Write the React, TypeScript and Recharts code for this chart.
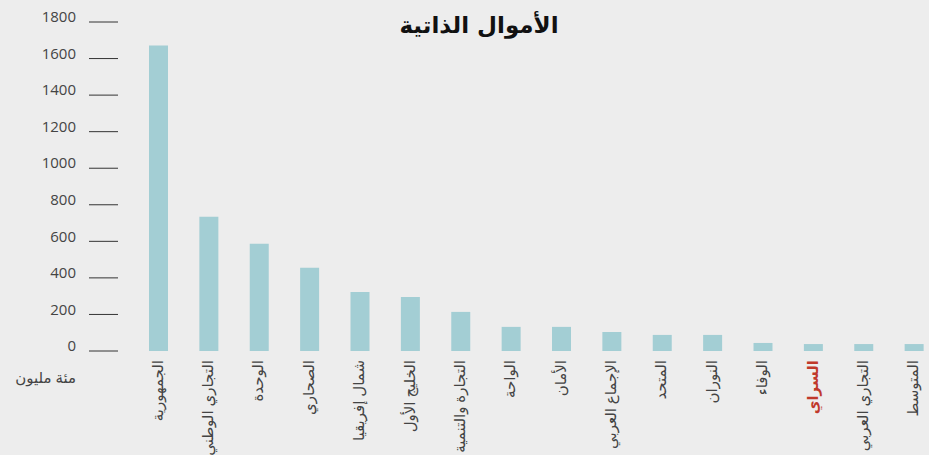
import React from 'react';
import { BarChart, Bar, XAxis, YAxis, Cell } from 'recharts';

// banks, sorted by own funds (hundred million)
const banks = [
  'الجمهورية',
  'التجاري الوطني',
  'الوحدة',
  'الصحاري',
  'شمال إفريقيا',
  'الخليج الأول',
  'التجارة والتنمية',
  'الواحة',
  'الأمان',
  'الإجماع العربي',
  'المتحد',
  'النوران',
  'الوفاء',
  'السراي',
  'التجاري العربي',
  'المتوسط',
];
const ownFunds = [1672, 735, 587, 455, 323, 296, 214, 132, 132, 104, 88, 88, 44, 38, 38, 38];
const yTicks = [0, 200, 400, 600, 800, 1000, 1200, 1400, 1600, 1800];
const highlighted = 'السراي';
const chartTitle = 'الأموال الذاتية';
const unitLabel = 'مئة مليون';

const data = banks.map((name, i) => ({ name, value: ownFunds[i] }));

const FONT = '"Open Sans", "DejaVu Sans", sans-serif';

const YTick = (props: any) => {
  const { x, y, payload } = props;
  return (
    <text x={x} y={y - 5} dy="0.35em" textAnchor="end" fill="#444" fontSize={15} fontFamily={FONT}>
      {payload.value}
    </text>
  );
};

const XTick = (props: any) => {
  const { x, y, payload } = props;
  const hot = payload.value === highlighted;
  return (
    <text
      x={x}
      y={y}
      dy="0.3em"
      transform={`rotate(-90, ${x}, ${y})`}
      textAnchor="end"
      fill={hot ? '#c0392b' : '#444'}
      fontWeight={hot ? 'bold' : 'normal'}
      fontSize={15}
      fontFamily={FONT}
    >
      {payload.value}
    </text>
  );
};

const UnitLabel = (props: any) => {
  const vb = props.viewBox || {};
  return (
    <text
      x={vb.x + vb.width - 42}
      y={vb.y + vb.height + 27}
      dy="0.35em"
      textAnchor="end"
      fill="#444"
      fontSize={15}
      fontFamily={FONT}
    >
      {unitLabel}
    </text>
  );
};

export default function App() {
  return (
    <div
      style={{
        position: 'fixed',
        left: 0,
        top: 0,
        width: 929,
        height: 455,
        overflow: 'hidden',
        background: '#ededed',
      }}
    >
      <div
        style={{
          position: 'absolute',
          left: 0,
          top: 10,
          width: 958,
          textAlign: 'center',
          fontFamily: '"DejaVu Sans", sans-serif',
          fontWeight: 'bold',
          fontSize: 23,
          lineHeight: '30px',
          color: '#111',
        }}
      >
        {chartTitle}
      </div>
      <BarChart
        width={940}
        height={455}
        data={data}
        margin={{ top: 22, right: 1, left: 0, bottom: 0 }}
      >
        <XAxis
          dataKey="name"
          interval={0}
          axisLine={false}
          tickLine={false}
          tickSize={6}
          tickMargin={3}
          padding={{ left: 15, right: 0 }}
          height={104}
          tick={<XTick />}
        />
        <YAxis
          width={118}
          domain={[0, 1800]}
          ticks={yTicks}
          interval={0}
          axisLine={false}
          tickSize={29}
          tickMargin={13}
          tickLine={{ stroke: '#333', strokeWidth: 1 }}
          tick={<YTick />}
          label={{ content: <UnitLabel /> }}
        />
        <Bar dataKey="value" barSize={19} fill="#a3ced4" isAnimationActive={false}>
          {data.map((d) => (
            <Cell key={d.name} fill="#a3ced4" />
          ))}
        </Bar>
      </BarChart>
    </div>
  );
}
